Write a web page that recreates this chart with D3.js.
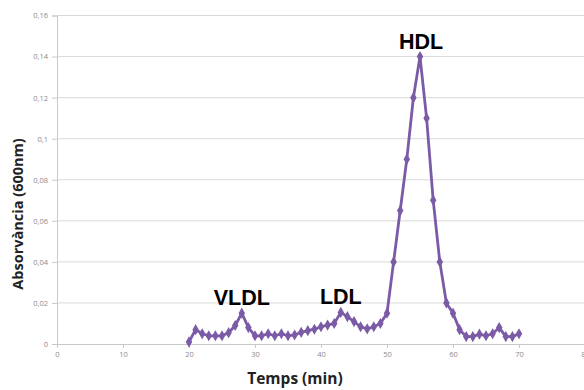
<!DOCTYPE html>
<html>
<head>
<meta charset="utf-8">
<script src="https://cdn.jsdelivr.net/npm/d3@7"></script>
<style>
  html, body { margin: 0; padding: 0; background: #fff; }
  svg { display: block; }
</style>
</head>
<body>
<svg id="chart" width="584" height="390"></svg>
<script>
// Elution time (min) and absorbance at 600 nm
const times = [20,21,22,23,24,25,26,27,28,29,30,31,32,33,34,35,36,37,38,39,40,41,42,43,44,45,46,47,48,49,50,51,52,53,54,55,56,57,58,59,60,61,62,63,64,65,66,67,68,69,70];
const absorbance = [0.001,0.007,0.005,0.004,0.004,0.004,0.0055,0.009,0.015,0.008,0.004,0.004,0.005,0.004,0.005,0.004,0.0044,0.0057,0.0065,0.0072,0.0084,0.0092,0.0100,0.0154,0.0133,0.0109,0.0084,0.0074,0.0084,0.0100,0.015,0.040,0.065,0.090,0.120,0.140,0.110,0.070,0.040,0.020,0.015,0.007,0.0036,0.0036,0.0048,0.004,0.005,0.008,0.0036,0.0036,0.005];
const xTicks = [0,10,20,30,40,50,60,70,80];
const yTicks = [0,0.02,0.04,0.06,0.08,0.1,0.12,0.14,0.16];
const peakLabels = ["VLDL","LDL","HDL"];
const peakTimes = [28,43,55];
const peakValues = [0.015,0.0154,0.140];

const svg = d3.select("#chart");
const x = d3.scaleLinear().domain([0,80]).range([57,585]);
const y = d3.scaleLinear().domain([0,0.16]).range([344,15.5]);
const fmt = d => d === 0 ? "0" : String(+d.toFixed(2)).replace(".", ",");

// horizontal gridlines
svg.append("g").selectAll("line").data(yTicks.filter(d => d > 0)).join("line")
  .attr("x1", x(0)).attr("x2", 584)
  .attr("y1", d => y(d)).attr("y2", d => y(d))
  .attr("stroke", "#d9d9d9").attr("stroke-width", 1);

// y axis
const yAxis = svg.append("g").attr("transform", `translate(${x(0)},0)`)
  .call(d3.axisLeft(y).tickValues(yTicks).tickFormat(fmt).tickSize(5).tickPadding(4));
// x axis
const xAxis = svg.append("g").attr("transform", `translate(0,${y(0)})`)
  .call(d3.axisBottom(x).tickValues(xTicks).tickFormat(d3.format("d")).tickSize(4).tickPadding(4));

[yAxis, xAxis].forEach(g => {
  g.select(".domain").attr("stroke", "#c8c8c8");
  g.selectAll(".tick line").attr("stroke", "#c8c8c8");
  g.selectAll(".tick text").attr("fill", "#8a8a8a")
    .attr("font-family", "'Open Sans', 'Liberation Sans', sans-serif").attr("font-size", 7.5);
});

// data line
const line = d3.line().x((d, i) => x(times[i])).y(d => y(d));
svg.append("path").datum(absorbance)
  .attr("d", line).attr("fill", "none")
  .attr("stroke", "#7b5aa6").attr("stroke-width", 2.8)
  .attr("stroke-linejoin", "round");

// diamond markers
const diamond = d3.symbol().type(d3.symbolDiamond).size(36);
svg.append("g").selectAll("path").data(absorbance).join("path")
  .attr("d", diamond)
  .attr("transform", (d, i) => `translate(${x(times[i])},${y(d)})`)
  .attr("fill", "#7b5aa6");

// peak labels
svg.append("g").selectAll("text").data(peakLabels).join("text")
  .attr("x", (d, i) => x(peakTimes[i]))
  .attr("y", (d, i) => y(peakValues[i]) - 8)
  .attr("dx", (d, i) => [0, 0, 1][i])
  .attr("text-anchor", "middle")
  .attr("font-family", "'Liberation Sans', Arial, sans-serif")
  .attr("font-weight", "bold").attr("font-size", 21.5)
  .attr("fill", "#000")
  .text(d => d);

// axis titles
svg.append("text")
  .attr("transform", `translate(23,214) rotate(-90)`)
  .attr("text-anchor", "middle")
  .attr("font-family", "'Open Sans', 'Liberation Sans', sans-serif")
  .attr("font-weight", "bold").attr("font-size", 14.5)
  .attr("fill", "#222")
  .text("Absorvància (600nm)");

svg.append("text")
  .attr("x", 295).attr("y", 384)
  .attr("text-anchor", "middle")
  .attr("font-family", "'Open Sans', 'Liberation Sans', sans-serif")
  .attr("font-weight", "bold").attr("font-size", 15.5)
  .attr("fill", "#222")
  .text("Temps (min)");
</script>
</body>
</html>
